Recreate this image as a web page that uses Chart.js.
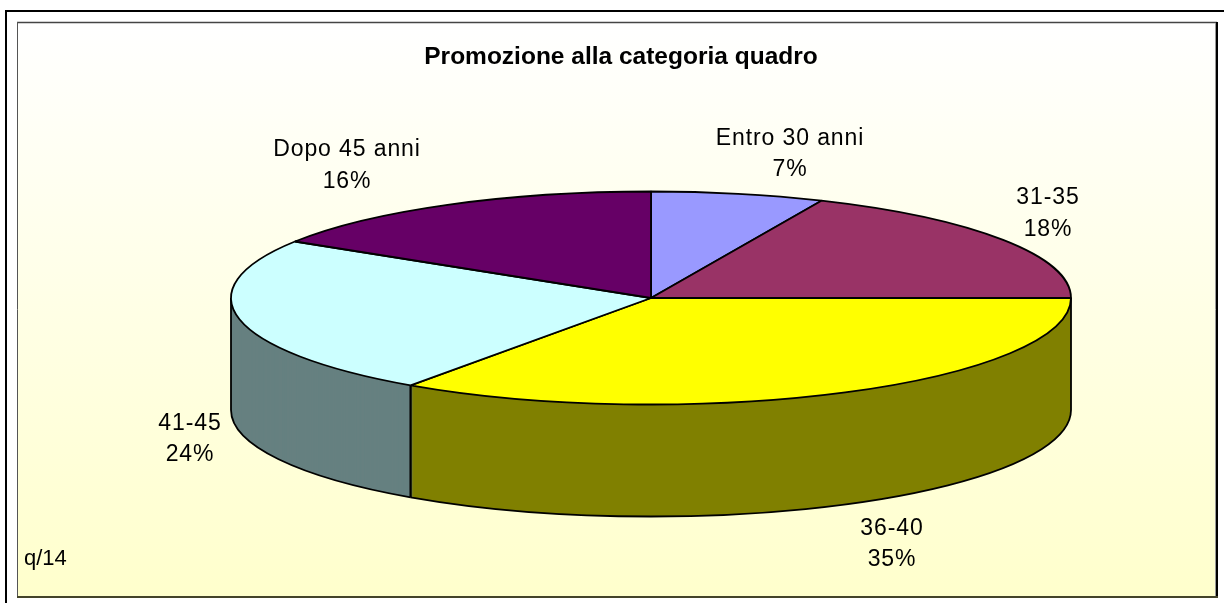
<!DOCTYPE html>
<html lang="it">
<head>
<meta charset="utf-8">
<title>Promozione alla categoria quadro</title>
<script src="https://cdn.jsdelivr.net/npm/chart.js@4"></script>
<style>html,body{margin:0;padding:0;background:#fff}canvas{display:block}</style>
</head>
<body>
<canvas id="c" width="1224" height="603"></canvas>
<script>
// Data (slice sizes; labels show them rounded)
const categories = ["Entro 30 anni", "31-35", "36-40", "41-45", "Dopo 45 anni"];
const shares = [6.65, 18.35, 34.7, 24.2, 16.1];
const chartTitle = "Promozione alla categoria quadro";
const footnote = "q/14";

// Styles
const topColors = ["#9999FF", "#993366", "#FFFF00", "#CCFFFF", "#660066"];
const wallColors = ["#4D4D80", "#4D1A33", "#808000", "#668080", "#330033"];
const PIE_RADIUS = 420, SQUASH = 106.5 / 420, DEPTH = 112, LINE = 1.8;

// Label centres (x, first line y, second line y)
const labelX = [790, 1048, 892, 190, 347];
const labelY1 = [139, 198, 529, 424, 150];
const labelY2 = [170, 230, 560, 455, 182];

function squash(ctx, arc, dy) {
  ctx.translate(arc.x, arc.y + dy);
  ctx.scale(1, SQUASH);
  ctx.translate(-arc.x, -arc.y);
}

function seg(ctx, color, width, x0, y0, x1, y1) {
  ctx.strokeStyle = color;
  ctx.lineWidth = width;
  ctx.beginPath();
  ctx.moveTo(x0, y0);
  ctx.lineTo(x1, y1);
  ctx.stroke();
}

const pie3d = {
  id: "pie3d",
  beforeDraw(chart) {
    const ctx = chart.ctx;
    ctx.save();
    const g = ctx.createLinearGradient(0, 22, 0, 597);
    g.addColorStop(0, "#FFFFFF");
    g.addColorStop(1, "#FFFFCC");
    ctx.fillStyle = g;
    ctx.fillRect(18, 23, 1198, 573);
    // outer frame: top and left only, running off the page
    seg(ctx, "#000", 2, 5, 11, 1224, 11);
    seg(ctx, "#000", 2, 6, 10, 6, 603);
    // inner panel edges
    seg(ctx, "#444", 1.5, 17, 22.5, 1217, 22.5);
    seg(ctx, "#555", 1, 17.5, 22, 17.5, 597);
    seg(ctx, "#999", 1, 1215.5, 23, 1215.5, 596);
    seg(ctx, "#000", 2, 1217, 22, 1217, 598);
    seg(ctx, "#44442A", 2, 17, 597, 1218, 597);
    ctx.restore();
  },
  beforeDatasetDraw(chart, args) {
    const ctx = chart.ctx;
    const arcs = args.meta.data;
    const frontArcs = [];
    for (let i = arcs.length - 1; i >= 0; i--) {
      const a = arcs[i];
      const norm = x => ((x % (2 * Math.PI)) + 2 * Math.PI) % (2 * Math.PI);
      const s = norm(a.startAngle);
      const e = s + (a.endAngle - a.startAngle);
      if (s < Math.PI || e > 2 * Math.PI) frontArcs.push({ a, i, s, e });
    }
    // side wall: the library's arcs, repeated downward in the darker colour
    for (const f of frontArcs) {
      const stand = Object.create(f.a);
      stand.options = Object.assign({}, f.a.options, {
        backgroundColor: wallColors[f.i], borderWidth: 0
      });
      for (let d = DEPTH; d >= 0; d--) {
        ctx.save();
        squash(ctx, f.a, d);
        stand.draw(ctx);
        ctx.restore();
      }
    }
    // wall outline
    ctx.save();
    ctx.strokeStyle = "#000";
    ctx.lineWidth = LINE;
    ctx.lineJoin = "round";
    for (const f of frontArcs) {
      const a0 = Math.max(f.s, 0), a1 = Math.min(f.e, Math.PI);
      if (a1 <= a0) continue;
      const { x, y, outerRadius: r } = f.a;
      const ry = r * SQUASH;
      ctx.beginPath();
      ctx.ellipse(x, y + DEPTH, r, ry, 0, a0, a1);
      ctx.stroke();
      for (const t of [a0, a1]) {
        const px = x + r * Math.cos(t), py = y + ry * Math.sin(t);
        ctx.beginPath();
        ctx.moveTo(px, py);
        ctx.lineTo(px, py + DEPTH);
        ctx.stroke();
      }
    }
    ctx.restore();
    // top face: squash the arcs, keep strokes at an even width
    const first = arcs[0];
    ctx.save();
    squash(ctx, first, 0);
    const nativeStroke = ctx.stroke;
    ctx.stroke = function () {
      ctx.save();
      ctx.setTransform(1, 0, 0, 1, 0, 0);
      nativeStroke.call(ctx);
      ctx.restore();
    };
  },
  afterDatasetDraw(chart) {
    delete chart.ctx.stroke;
    chart.ctx.restore();
  },
  afterDraw(chart) {
    const ctx = chart.ctx;
    ctx.save();
    ctx.fillStyle = "#000";
    ctx.textBaseline = "middle";
    ctx.textAlign = "center";
    ctx.font = "bold 24.5px 'Liberation Sans', Arial, sans-serif";
    ctx.fillText(chartTitle, 621, 57);
    ctx.font = "23px 'Liberation Sans', Arial, sans-serif";
    ctx.letterSpacing = "0.9px";
    categories.forEach((c, i) => {
      ctx.fillText(c, labelX[i], labelY1[i]);
      ctx.fillText(Math.round(shares[i]) + "%", labelX[i], labelY2[i]);
    });
    ctx.letterSpacing = "0px";
    ctx.textAlign = "left";
    ctx.font = "22px 'Liberation Sans', Arial, sans-serif";
    ctx.fillText(footnote, 24, 559);
    ctx.restore();
  }
};

new Chart(document.getElementById("c"), {
  type: "pie",
  data: {
    labels: categories,
    datasets: [{
      data: shares,
      backgroundColor: topColors,
      borderColor: "#000",
      borderWidth: LINE,
      radius: PIE_RADIUS,
      clip: false
    }]
  },
  options: {
    responsive: false,
    animation: false,
    layout: { padding: { left: 78, right: 0, top: 0, bottom: 7 } },
    plugins: { legend: { display: false }, tooltip: { enabled: false }, title: { display: false } }
  },
  plugins: [pie3d]
});
</script>
</body>
</html>
